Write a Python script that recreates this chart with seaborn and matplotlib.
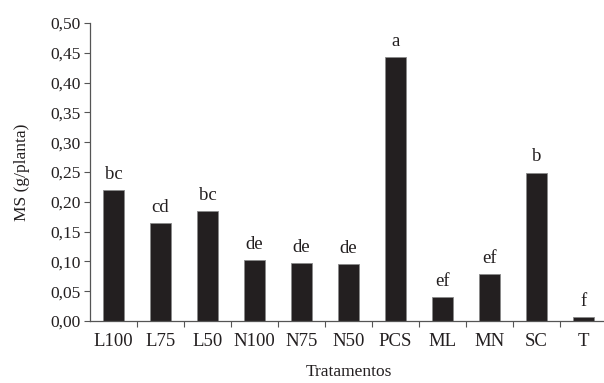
import numpy as np
import pandas as pd
import matplotlib
matplotlib.use('Agg')
import matplotlib.pyplot as plt
import seaborn as sns
from matplotlib.ticker import FixedLocator, FuncFormatter

# Data
tratamentos = ['L100', 'L75', 'L50', 'N100', 'N75', 'N50', 'PCS', 'ML', 'MN', 'SC', 'T']
ms = [0.220, 0.164, 0.185, 0.102, 0.097, 0.095, 0.443, 0.040, 0.079, 0.249, 0.007]
letras = ['bc', 'cd', 'bc', 'de', 'de', 'de', 'a', 'ef', 'ef', 'b', 'f']

df = pd.DataFrame({'trat': tratamentos, 'ms': ms})

sns.set_style('white')
plt.rcParams['font.family'] = ['Liberation Serif', 'DejaVu Serif']

fig = plt.figure(figsize=(6.04, 3.83), dpi=100)
ax = fig.add_axes([0.149, 0.162, 0.856, 0.778])

sns.barplot(data=df, x='trat', y='ms', color='#231f20', width=0.43,
            edgecolor='#8a8a8a', linewidth=0.6, saturation=1, ax=ax)

for i, (v, l) in enumerate(zip(ms, letras)):
    ax.text(i, v + 0.012, l, ha='center', va='bottom', fontsize=13.5, color='#231f20')

ax.set_ylim(0, 0.5)
ax.set_xlim(-0.5, len(tratamentos) - 0.5)
ax.set_yticks(np.arange(0, 0.501, 0.05))
ax.yaxis.set_major_formatter(FuncFormatter(lambda v, p: f'{v:.2f}'.replace('.', ',')))
ax.xaxis.set_minor_locator(FixedLocator(np.arange(0.5, len(tratamentos) - 0.5, 1)))
ax.tick_params(axis='x', which='major', length=0, labelsize=13.5, pad=9, colors='#231f20')
ax.tick_params(axis='x', which='minor', length=4, width=0.8, direction='out', bottom=True, color='#555555')
ax.tick_params(axis='y', length=4, width=0.8, direction='out', left=True, labelsize=12.5, pad=3,
               colors='#231f20')
ax.tick_params(axis='y', color='#555555')

for s in ['top', 'right']:
    ax.spines[s].set_visible(False)
for s in ['left', 'bottom']:
    ax.spines[s].set_color('#555555')
    ax.spines[s].set_linewidth(0.9)

ax.set_xlabel('Tratamentos', fontsize=12.5, labelpad=10, color='#231f20')
ax.set_ylabel('MS (g/planta)', fontsize=12.5, labelpad=14, color='#231f20')

fig.savefig('out.png', dpi=100)
